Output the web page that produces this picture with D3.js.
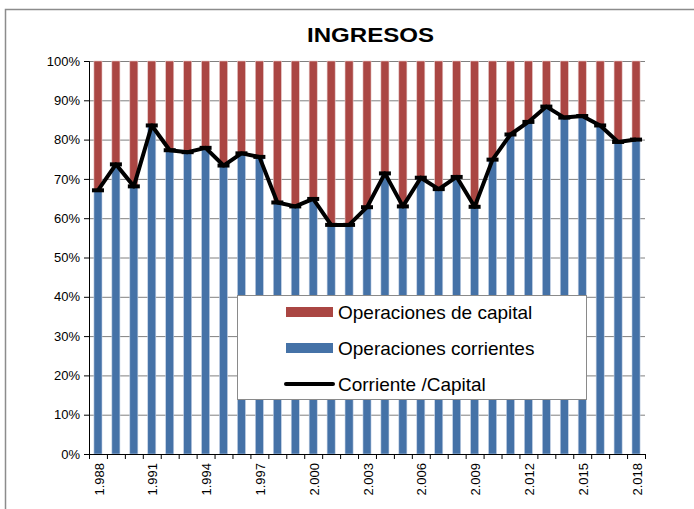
<!DOCTYPE html>
<html>
<head>
<meta charset="utf-8">
<script src="https://cdn.jsdelivr.net/npm/d3@7"></script>
<style>
  body { margin: 0; background: #fff; }
  svg { font-family: "Liberation Sans", Arial, sans-serif; }
</style>
</head>
<body>
<script>
// years and share of current operations in total income
var years = d3.range(1988, 2019);
var corrientes = [67.1, 73.7, 68.1, 83.6, 77.3, 76.8, 77.9, 73.4, 76.5, 75.6,
                  64.0, 63.0, 64.9, 58.3, 58.3, 62.8, 71.4, 63.0, 70.3, 67.4,
                  70.5, 62.9, 74.9, 81.3, 84.5, 88.4, 85.6, 86.0, 83.6, 79.4, 80.0];
var capital = corrientes.map(function (v) { return 100 - v; });
var labelYears = [1988, 1991, 1994, 1997, 2000, 2003, 2006, 2009, 2012, 2015, 2018];
var seriesNames = ["Operaciones de capital", "Operaciones corrientes", "Corriente /Capital"];

var w = 694, h = 509;
var plot = { left: 89, right: 645, top: 61, bottom: 454 };

var svg = d3.select("body").append("svg")
  .attr("width", w)
  .attr("height", h);

// chart frame
svg.append("path")
  .attr("d", "M5.5," + h + "V9.5H" + w)
  .attr("fill", "none")
  .attr("stroke", "#8c8c8c")
  .attr("stroke-width", 1.5);

svg.append("text")
  .attr("x", 307)
  .attr("y", 42)
  .attr("font-size", 21)
  .attr("font-weight", "bold")
  .attr("textLength", 127)
  .attr("lengthAdjust", "spacingAndGlyphs")
  .text("INGRESOS");

var x = d3.scaleBand().domain(years).range([plot.left, plot.right]);
var xPos = d3.scaleLinear().domain([0, years.length]).range([plot.left, plot.right]);
var y = d3.scaleLinear().domain([0, 100]).range([plot.bottom, plot.top]);

// gridlines
svg.append("g")
  .selectAll("line")
  .data(d3.range(10, 101, 10))
  .enter().append("line")
  .attr("x1", plot.left).attr("x2", plot.right)
  .attr("y1", function (d) { return y(d) + 0.5; })
  .attr("y2", function (d) { return y(d) + 0.5; })
  .attr("stroke", "#808080")
  .attr("stroke-width", 1);

var bw = x.bandwidth() * 0.45;

// blue bars
svg.append("g").selectAll("rect")
  .data(corrientes)
  .enter().append("rect")
  .attr("x", function (d, i) { return x(years[i]) + (x.bandwidth() - bw) / 2; })
  .attr("y", function (d) { return y(d); })
  .attr("width", bw)
  .attr("height", function (d) { return plot.bottom - y(d); })
  .attr("fill", "#4572A7")
  .attr("stroke", "#c6d3e6")
  .attr("stroke-width", 0.6);

// red bars stacked on top
svg.append("g").selectAll("rect")
  .data(capital)
  .enter().append("rect")
  .attr("x", function (d, i) { return x(years[i]) + (x.bandwidth() - bw) / 2; })
  .attr("y", function (d, i) { return y(corrientes[i] + d); })
  .attr("width", bw)
  .attr("height", function (d, i) { return y(corrientes[i]) - y(corrientes[i] + d); })
  .attr("fill", "#AA4643")
  .attr("stroke", "#e6c8c7")
  .attr("stroke-width", 0.6);

// line
var line = d3.line()
  .x(function (d, i) { return x(years[i]) + x.bandwidth() / 2; })
  .y(function (d) { return y(d); });

svg.append("path")
  .datum(corrientes)
  .attr("d", line)
  .attr("fill", "none")
  .attr("stroke", "#000")
  .attr("stroke-width", 4)
  .attr("stroke-linejoin", "round");

svg.append("g").selectAll("rect")
  .data(corrientes)
  .enter().append("rect")
  .attr("x", function (d, i) { return x(years[i]) + x.bandwidth() / 2 - 6; })
  .attr("y", function (d) { return y(d) - 2; })
  .attr("width", 12)
  .attr("height", 4)
  .attr("fill", "#000");

// y axis
var yAxis = d3.axisLeft(y)
  .tickValues(d3.range(0, 101, 10))
  .tickSize(5)
  .tickPadding(4)
  .tickFormat(function (d) { return d + "%"; });

svg.append("g")
  .attr("transform", "translate(" + plot.left + ",0)")
  .call(yAxis)
  .call(function (g) {
    g.selectAll("text").attr("font-size", 13).attr("fill", "#000").attr("font-family", null);
    g.selectAll("line, path").attr("stroke", "#000");
  });

// x axis ticks between categories
svg.append("g")
  .attr("transform", "translate(0," + plot.bottom + ")")
  .call(d3.axisBottom(xPos).tickValues(d3.range(0, years.length + 1)).tickSize(5).tickSizeOuter(0).tickFormat(""))
  .call(function (g) {
    g.selectAll("line, path").attr("stroke", "#000");
  });

// x labels
var fmt = d3.formatLocale({ decimal: ",", thousands: ".", grouping: [3], currency: ["", ""] }).format(",");
svg.append("g")
  .attr("transform", "translate(0," + plot.bottom + ")")
  .call(d3.axisBottom(x).tickValues(labelYears).tickSize(0).tickFormat(fmt))
  .call(function (g) {
    g.select(".domain").remove();
    g.selectAll("text")
      .attr("font-size", 13)
      .attr("font-family", null)
      .attr("fill", "#000")
      .attr("transform", "rotate(-90)")
      .attr("x", -9)
      .attr("y", 1)
      .attr("dy", "0.35em")
      .attr("text-anchor", "end");
  });

// legend
var legend = svg.append("g");
legend.append("rect")
  .attr("x", 237.5).attr("y", 295.5)
  .attr("width", 349).attr("height", 104)
  .attr("fill", "#fff")
  .attr("stroke", "#8a8a8a");

var rows = [312, 348, 384];
var colors = ["#AA4643", "#4572A7", "#000"];
seriesNames.forEach(function (name, i) {
  if (i < 2) {
    legend.append("rect")
      .attr("x", 286).attr("y", rows[i] - 5)
      .attr("width", 47).attr("height", 10)
      .attr("fill", colors[i]);
  } else {
    legend.append("line")
      .attr("x1", 286).attr("x2", 333)
      .attr("y1", rows[i]).attr("y2", rows[i])
      .attr("stroke", "#000")
      .attr("stroke-width", 4)
      .attr("stroke-linecap", "round");
  }
  legend.append("text")
    .attr("x", 338)
    .attr("y", rows[i])
    .attr("dy", "0.36em")
    .attr("font-size", 19)
    .text(name);
});
</script>
</body>
</html>
